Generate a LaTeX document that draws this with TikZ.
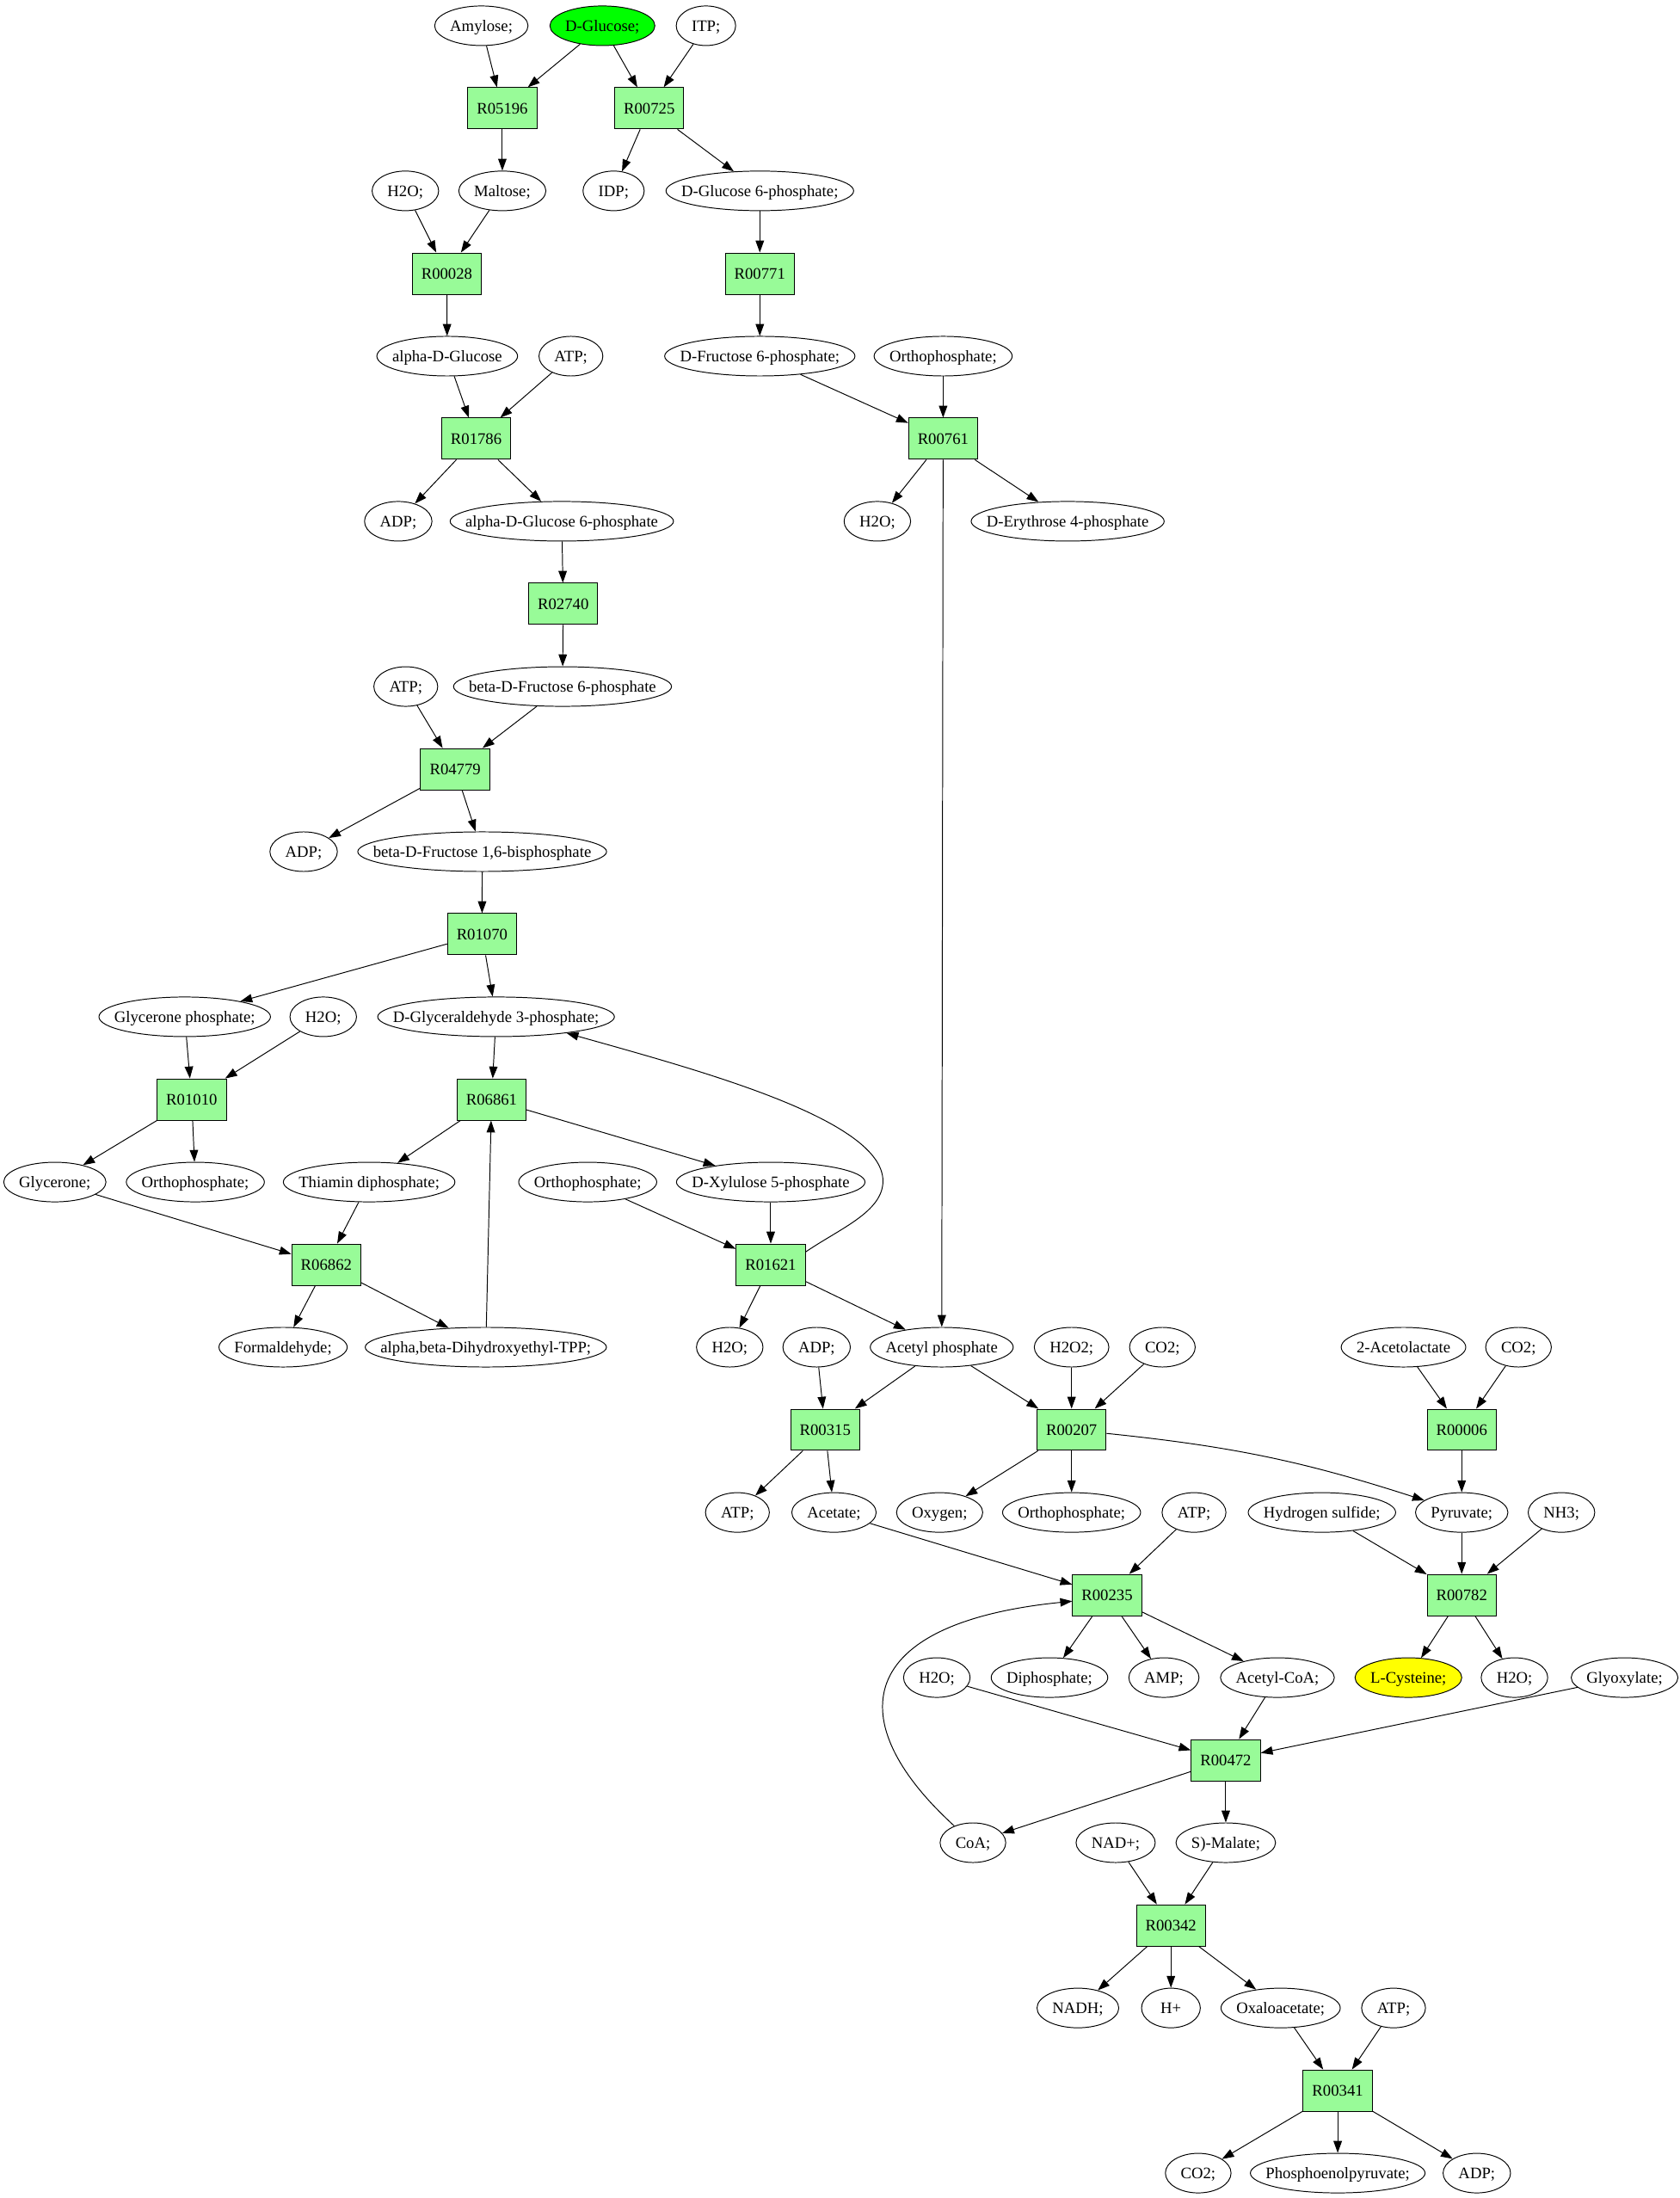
\documentclass[tikz,border=0pt]{standalone}
\usepackage{fontspec}
\setmainfont{Liberation Serif}
\usetikzlibrary{shapes.geometric,arrows.meta}

\definecolor{palegreen}{RGB}{152,251,152}
\definecolor{seedgreen}{RGB}{0,255,0}
\definecolor{goalyellow}{RGB}{255,255,0}

\newcommand\cpdfont{\fontsize{11.5}{13.8}\selectfont}
\newdimen\cpdw
% compound: [options]{name}{x}{y}{label}
\newcommand\cpd[5][]{%
  \node[metab,/pgf/minimum width={max(\cpdw+22pt,42pt)},#1] (#2) at (#3,-#4)
    {\settowidth\cpdw{#5}\global\cpdw=\cpdw\makebox[0pt]{#5}};}

\begin{document}
\begin{tikzpicture}[x=1pt,y=1pt,>={Triangle[length=8.5pt,width=6pt]},line width=0.6pt,
    every node/.style={font=\cpdfont,text height=7.6pt,text depth=0pt},
    metab/.style={ellipse,draw,inner sep=0pt,minimum height=28.3pt},
    rxn/.style={rectangle,draw,fill=palegreen,inner sep=0pt,minimum width=49.4pt,minimum height=29.5pt}]
                \useasboundingbox (0,0) rectangle (1200,-1570.7);

                % glycolysis branch
                \cpd{amylose}{344}{18.4}{Amylose;}
                \cpd[fill=seedgreen]{glc}{430.5}{18.4}{D-Glucose;}
                \cpd{itp}{504.5}{18.4}{ITP;}
                \node[rxn] (r05196) at (359,-77.4) {R05196};
                \node[rxn] (r00725) at (464,-77.4) {R00725};
                \cpd{h2oA}{289.7}{136.4}{H2O;}
                \cpd{maltose}{359}{136.4}{Maltose;}
                \cpd{idp}{438.5}{136.4}{IDP;}
                \cpd{g6p}{543}{136.4}{D-Glucose 6-phosphate;}
                \node[rxn] (r00028) at (319.3,-195.5) {R00028};
                \node[rxn] (r00771) at (543,-195.5) {R00771};
                \cpd{aglc}{319.6}{254.5}{alpha-D-Glucose}
                \cpd{atpA}{408}{254.5}{ATP;}
                \cpd{f6p}{543}{254.5}{D-Fructose 6-phosphate;}
                \cpd{piA}{674}{254.5}{Orthophosphate;}
                \node[rxn] (r01786) at (340.3,-313.5) {R01786};
                \node[rxn] (r00761) at (674,-313.5) {R00761};
                \cpd{adpA}{284.6}{372.5}{ADP;}
                \cpd{ag6p}{401.5}{372.5}{alpha-D-Glucose 6-phosphate}
                \cpd{h2oB}{627}{372.5}{H2O;}
                \cpd{e4p}{763}{372.5}{D-Erythrose 4-phosphate}
                \node[rxn] (r02740) at (402.5,-431.5) {R02740};
                \cpd{atpB}{290}{490.6}{ATP;}
                \cpd{bf6p}{402}{490.6}{beta-D-Fructose 6-phosphate}
                \node[rxn] (r04779) at (325.3,-549.6) {R04779};
                \cpd{adpB}{217}{608.6}{ADP;}
                \cpd{fbp}{344.6}{608.6}{beta-D-Fructose 1,6-bisphosphate}
                \node[rxn] (r01070) at (344.5,-667.6) {R01070};
                \cpd{dhap}{132}{726.6}{Glycerone phosphate;}
                \cpd{h2oC}{231}{726.6}{H2O;}
                \cpd{gap}{354.5}{726.6}{D-Glyceraldehyde 3-phosphate;}
                \node[rxn] (r01010) at (137,-785.7) {R01010};
                \node[rxn] (r06861) at (351.3,-785.7) {R06861};
                \cpd{glycerone}{39.2}{844.7}{Glycerone;}
                \cpd{piB}{139.6}{844.7}{Orthophosphate;}
                \cpd{tpp}{263.8}{844.7}{Thiamin diphosphate;}
                \cpd{piC}{420}{844.7}{Orthophosphate;}
                \cpd{xu5p}{550.8}{844.7}{D-Xylulose 5-phosphate}
                \node[rxn] (r06862) at (233.2,-903.7) {R06862};
                \node[rxn] (r01621) at (550.8,-903.7) {R01621};

                % acetyl phosphate and pyruvate
                \cpd{formald}{202.3}{962.7}{Formaldehyde;}
                \cpd{hetpp}{347.2}{962.7}{alpha,beta-Dihydroxyethyl-TPP;}
                \cpd{h2oD}{521.5}{962.7}{H2O;}
                \cpd{adpC}{583.6}{962.7}{ADP;}
                \cpd{acp}{673}{962.7}{Acetyl phosphate}
                \cpd{h2o2}{765.8}{962.7}{H2O2;}
                \cpd{co2A}{830.7}{962.7}{CO2;}
                \cpd{acetolac}{1003}{962.7}{2-Acetolactate}
                \cpd{co2B}{1085.2}{962.7}{CO2;}
                \node[rxn] (r00315) at (589.7,-1021.7) {R00315};
                \node[rxn] (r00207) at (765.8,-1021.7) {R00207};
                \node[rxn] (r00006) at (1044.6,-1021.7) {R00006};
                \cpd{atpC}{527}{1080.8}{ATP;}
                \cpd{acetate}{596}{1080.8}{Acetate;}
                \cpd{oxygen}{671.5}{1080.8}{Oxygen;}
                \cpd{piD}{765.8}{1080.8}{Orthophosphate;}
                \cpd{atpD}{853.3}{1080.8}{ATP;}
                \cpd{h2s}{944.7}{1080.8}{Hydrogen sulfide;}
                \cpd{pyr}{1044.6}{1080.8}{Pyruvate;}
                \cpd{nh3}{1115.9}{1080.8}{NH3;}
                \node[rxn] (r00235) at (791.2,-1139.8) {R00235};
                \node[rxn] (r00782) at (1044.6,-1139.8) {R00782};
                \cpd{h2oE}{669.5}{1198.8}{H2O;}
                \cpd{ppi}{750}{1198.8}{Diphosphate;}
                \cpd{amp}{831.8}{1198.8}{AMP;}
                \cpd{accoa}{912.9}{1198.8}{Acetyl-CoA;}
                \cpd[fill=goalyellow]{cys}{1006.5}{1198.8}{L-Cysteine;}
                \cpd{h2oF}{1082.3}{1198.8}{H2O;}
                \cpd{glyox}{1161}{1198.8}{Glyoxylate;}
                \node[rxn] (r00472) at (876,-1257.8) {R00472};
                \cpd{coa}{695.3}{1316.8}{CoA;}
                \cpd{nad}{797.3}{1316.8}{NAD+;}
                \cpd{mal}{876}{1316.8}{S)-Malate;}
                \node[rxn] (r00342) at (836.8,-1375.9) {R00342};
                \cpd{nadh}{770.3}{1434.9}{NADH;}
                \cpd{hplus}{836.8}{1434.9}{H+}
                \cpd{oaa}{915.2}{1434.9}{Oxaloacetate;}
                \cpd{atpE}{995.9}{1434.9}{ATP;}
                \node[rxn] (r00341) at (956,-1493.9) {R00341};
                \cpd{co2C}{856.3}{1552.9}{CO2;}
                \cpd{pep}{956}{1552.9}{Phosphoenolpyruvate;}
                \cpd{adpD}{1055.4}{1552.9}{ADP;}

                % straight edges
                \foreach \a/\b in {amylose/r05196, glc/r05196, glc/r00725, itp/r00725,
                    r05196/maltose, r00725/idp, r00725/g6p, h2oA/r00028, maltose/r00028, g6p/r00771,
                    r00028/aglc, r00771/f6p, aglc/r01786, atpA/r01786, f6p/r00761, piA/r00761,
                    r01786/adpA, r01786/ag6p, r00761/h2oB, r00761/e4p, r00761/acp,
                    ag6p/r02740, r02740/bf6p, atpB/r04779, bf6p/r04779, r04779/adpB, r04779/fbp,
                    fbp/r01070, r01070/dhap, r01070/gap, dhap/r01010, h2oC/r01010, gap/r06861,
                    r01010/glycerone, r01010/piB, r06861/tpp, r06861/xu5p,
                    glycerone/r06862, tpp/r06862, piC/r01621, xu5p/r01621,
                    r06862/formald, r06862/hetpp, hetpp/r06861, r01621/h2oD, r01621/acp,
                    adpC/r00315, acp/r00315, acp/r00207, h2o2/r00207, co2A/r00207,
                    acetolac/r00006, co2B/r00006, r00315/atpC, r00315/acetate,
                    r00207/oxygen, r00207/piD, r00006/pyr, acetate/r00235, atpD/r00235,
                    h2s/r00782, pyr/r00782, nh3/r00782, r00235/ppi, r00235/amp, r00235/accoa,
                    r00782/cys, r00782/h2oF, h2oE/r00472, accoa/r00472, glyox/r00472,
                    r00472/coa, r00472/mal, nad/r00342, mal/r00342,
                    r00342/nadh, r00342/hplus, r00342/oaa, oaa/r00341, atpE/r00341,
                    r00341/co2C, r00341/pep, r00341/adpD}
                    \draw[->] (\a) -- (\b);

                % curved edges
                \draw[->] (r01621.20) .. controls (600,-878) and (631,-866) .. (631,-844)
                    .. controls (631,-800) and (500,-765) .. (gap.-13);
                \draw[->] (r00207) to[bend left=6] (pyr);
                \draw[->] (coa.138) .. controls (600,-1230) and (610,-1160) .. (r00235.190);
            \end{tikzpicture}
\end{document}
